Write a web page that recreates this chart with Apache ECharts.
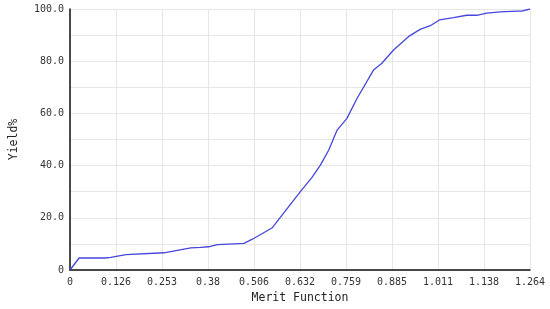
<!DOCTYPE html>
<html>
<head>
<meta charset="utf-8">
<script src="https://cdn.jsdelivr.net/npm/echarts@6/dist/echarts.min.js"></script>
<style>
  html, body { margin:0; padding:0; background:#fff; }
  #chart { width:550px; height:309px; }
</style>
</head>
<body>
<div id="chart"></div>
<script>
// x tick labels (as printed on the chart)
const xTickLabels = ['0','0.126','0.253','0.38','0.506','0.632','0.759','0.885','1.011','1.138','1.264'];
// curve
const merit = [0, 0.025, 0.096, 0.112, 0.154, 0.258, 0.332, 0.359, 0.381, 0.405, 0.478, 0.501, 0.556,
  0.633, 0.665, 0.688, 0.711, 0.734, 0.761, 0.789, 0.834, 0.857, 0.889, 0.930, 0.962, 0.990,
  1.015, 1.054, 1.090, 1.118, 1.145, 1.182, 1.228, 1.241, 1.264];
const yieldPct = [0, 4.6, 4.6, 4.8, 5.9, 6.6, 8.5, 8.7, 8.9, 9.7, 10.2, 11.8, 16.2,
  30.0, 35.5, 40.2, 46.0, 53.6, 58.1, 65.8, 76.6, 79.2, 84.3, 89.4, 92.2, 93.6,
  95.8, 96.7, 97.6, 97.6, 98.4, 98.9, 99.2, 99.2, 100];

const xMax = 1.264;
const font = 'DejaVu Sans Mono';

const chart = echarts.init(document.getElementById('chart'));
chart.setOption({
  animation: false,
  grid: {left: 69, right: 20, top: 9, bottom: 39},
  xAxis: {
    type: 'value', min: 0, max: xMax, interval: xMax / 10,
    name: 'Merit Function', nameLocation: 'middle', nameGap: 22,
    nameTextStyle: {fontFamily: font, fontSize: 11.5, color: '#222'},
    axisLine: {lineStyle: {color: '#111', width: 1.5}},
    axisTick: {show: false},
    axisLabel: {fontFamily: font, fontSize: 10, color: '#333', margin: 7,
      formatter: (v) => xTickLabels[Math.round(v / xMax * 10)]},
    splitLine: {lineStyle: {color: '#e6e6e6'}}
  },
  yAxis: {
    type: 'value', min: 0, max: 100, interval: 10,
    name: 'Yield%', nameLocation: 'middle', nameGap: 50,
    nameTextStyle: {fontFamily: font, fontSize: 11.5, color: '#222'},
    axisLine: {show: true, lineStyle: {color: '#111', width: 1.5}},
    axisTick: {show: false},
    axisLabel: {fontFamily: font, fontSize: 10, color: '#333', margin: 6,
      formatter: (v) => v === 0 ? '0' : (v % 20 === 0 ? v.toFixed(1) : '')},
    splitLine: {lineStyle: {color: '#e6e6e6'}}
  },
  series: [{
    type: 'line',
    data: merit.map((m, i) => [m, yieldPct[i]]),
    showSymbol: false,
    lineStyle: {color: '#4646dc', width: 1.3}
  }]
});
</script>
</body>
</html>
